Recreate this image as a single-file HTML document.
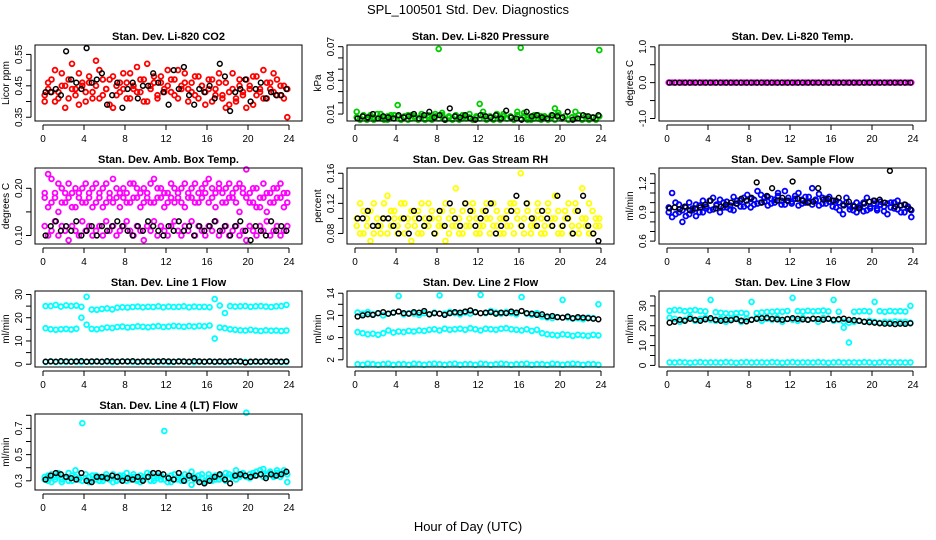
<!DOCTYPE html>
<html><head><meta charset="utf-8"><style>
html,body{margin:0;padding:0;background:#fff;}
svg{display:block;font-family:"Liberation Sans",Arial,sans-serif;}
</style></head><body>
<svg id="chart" width="936" height="540" viewBox="0 0 936 540" xmlns="http://www.w3.org/2000/svg">
<text x="468" y="14" font-size="13" text-anchor="middle">SPL_100501  Std. Dev. Diagnostics</text>
<text x="468" y="531" font-size="13" text-anchor="middle">Hour of Day (UTC)</text>
</svg>
<script>
// ---- data arrays ----
const hourTicks=[0,4,8,12,16,20,24];
const co2A=[0.42,0.44,0.47,0.40,0.43,0.49,0.45,0.41,0.52,0.44,0.39,0.46,0.43,0.48,0.41,0.45,0.50,0.42,0.44,0.47,0.38,0.45,0.43,0.49,0.46,0.41,0.44,0.51,0.43,0.47,0.40,0.45,0.48,0.42,0.46,0.44,0.50,0.43,0.47,0.41,0.45,0.49,0.44,0.46,0.42,0.48,0.45,0.43,0.47,0.40,0.44,0.49,0.42,0.46,0.39,0.44,0.41,0.47,0.43,0.38,0.45,0.48,0.42,0.44,0.50,0.41,0.46,0.43,0.47,0.42,0.45,0.44];
const co2B=[0.40,0.46,0.43,0.50,0.41,0.45,0.38,0.47,0.44,0.42,0.49,0.45,0.40,0.46,0.43,0.53,0.41,0.47,0.44,0.39,0.48,0.42,0.46,0.44,0.41,0.49,0.45,0.43,0.47,0.40,0.52,0.44,0.46,0.41,0.48,0.43,0.45,0.47,0.42,0.50,0.44,0.46,0.40,0.43,0.48,0.41,0.45,0.39,0.44,0.47,0.42,0.46,0.41,0.38,0.43,0.49,0.40,0.45,0.42,0.47,0.44,0.39,0.48,0.43,0.41,0.46,0.44,0.49,0.42,0.45,0.41,0.35];
const co2K=[0.43,0.43,0.44,0.42,0.56,0.47,0.46,0.44,0.57,0.46,0.47,0.49,0.39,0.42,0.46,0.38,0.44,0.46,0.41,0.45,0.45,0.49,0.46,0.43,0.39,0.50,0.44,0.51,0.42,0.39,0.44,0.43,0.45,0.41,0.52,0.48,0.37,0.43,0.44,0.47,0.40,0.44,0.46,0.41,0.43,0.42,0.42,0.44];
const presA=[0.012,0.006,0.008,0.005,0.009,0.007,0.006,0.010,0.005,0.008,0.007,0.009,0.018,0.006,0.008,0.005,0.009,0.007,0.006,0.008,0.005,0.009,0.007,0.010,0.068,0.011,0.006,0.008,0.005,0.009,0.007,0.006,0.008,0.010,0.005,0.007,0.019,0.012,0.006,0.008,0.005,0.009,0.007,0.010,0.006,0.008,0.005,0.012,0.069,0.011,0.007,0.005,0.009,0.006,0.008,0.007,0.005,0.009,0.015,0.011,0.006,0.008,0.005,0.007,0.012,0.009,0.006,0.008,0.005,0.007,0.006,0.067];
const presB=[0.007,0.005,0.009,0.006,0.008,0.005,0.010,0.006,0.007,0.005,0.009,0.006,0.008,0.005,0.007,0.009,0.006,0.008,0.005,0.010,0.006,0.007,0.005,0.008,0.006,0.009,0.005,0.007,0.006,0.008,0.005,0.009,0.006,0.007,0.005,0.008,0.006,0.009,0.005,0.007,0.006,0.010,0.005,0.008,0.006,0.007,0.005,0.009,0.006,0.008,0.005,0.007,0.006,0.009,0.005,0.008,0.006,0.007,0.005,0.009,0.006,0.008,0.005,0.007,0.006,0.009,0.005,0.008,0.006,0.007,0.005,0.008];
const presK=[0.006,0.008,0.007,0.010,0.006,0.008,0.007,0.006,0.009,0.007,0.008,0.010,0.006,0.009,0.012,0.007,0.009,0.005,0.015,0.008,0.007,0.009,0.006,0.005,0.009,0.008,0.007,0.009,0.006,0.013,0.007,0.006,0.005,0.012,0.008,0.009,0.007,0.006,0.009,0.008,0.007,0.012,0.005,0.006,0.009,0.008,0.007,0.009];
const tempA=[0,0,0,0,0,0,0,0,0,0,0,0,0,0,0,0,0,0,0,0,0,0,0,0,0,0,0,0,0,0,0,0,0,0,0,0,0,0,0,0,0,0,0,0,0,0,0,0,0,0,0,0,0,0,0,0,0,0,0,0,0,0,0,0,0,0,0,0,0,0,0,0];
const tempK=[0,0,0,0,0,0,0,0,0,0,0,0,0,0,0,0,0,0,0,0,0,0,0,0,0,0,0,0,0,0,0,0,0,0,0,0,0,0,0,0,0,0,0,0,0,0,0,0];
const ambHi=[0.18,0.16,0.22,0.19,0.15,0.20,0.17,0.21,0.19,0.16,0.18,0.20,0.17,0.19,0.16,0.21,0.18,0.20,0.17,0.19,0.22,0.18,0.16,0.20,0.19,0.17,0.21,0.18,0.16,0.20,0.19,0.17,0.22,0.18,0.20,0.16,0.19,0.21,0.17,0.18,0.20,0.16,0.19,0.18,0.21,0.17,0.20,0.19,0.22,0.18,0.16,0.20,0.19,0.17,0.21,0.18,0.20,0.15,0.19,0.24,0.17,0.20,0.16,0.18,0.21,0.15,0.19,0.17,0.20,0.18,0.16,0.19];
const ambHi2=[0.19,0.23,0.17,0.18,0.21,0.17,0.19,0.18,0.16,0.20,0.19,0.17,0.21,0.18,0.20,0.17,0.19,0.16,0.21,0.18,0.17,0.20,0.19,0.18,0.17,0.21,0.18,0.20,0.19,0.17,0.18,0.21,0.17,0.20,0.18,0.19,0.17,0.18,0.20,0.19,0.17,0.21,0.18,0.20,0.17,0.19,0.18,0.21,0.17,0.20,0.19,0.21,0.17,0.20,0.18,0.19,0.17,0.21,0.20,0.18,0.19,0.17,0.20,0.16,0.18,0.19,0.17,0.20,0.18,0.21,0.19,0.17];
const ambLo=[0.12,0.10,0.11,0.13,0.10,0.12,0.11,0.09,0.12,0.11,0.10,0.13,0.11,0.12,0.10,0.11,0.12,0.10,0.13,0.11,0.12,0.10,0.11,0.12,0.13,0.11,0.10,0.12,0.11,0.09,0.12,0.11,0.13,0.10,0.12,0.11,0.10,0.12,0.13,0.11,0.10,0.12,0.11,0.13,0.10,0.12,0.11,0.10,0.12,0.11,0.13,0.10,0.11,0.12,0.10,0.11,0.12,0.10,0.11,0.09,0.12,0.11,0.10,0.12,0.11,0.13,0.10,0.11,0.12,0.10,0.11,0.12];
const ambK=[0.10,0.12,0.13,0.11,0.12,0.11,0.13,0.10,0.11,0.12,0.10,0.12,0.11,0.12,0.13,0.12,0.11,0.10,0.12,0.11,0.13,0.12,0.11,0.10,0.12,0.11,0.13,0.11,0.12,0.10,0.12,0.11,0.12,0.13,0.11,0.12,0.10,0.12,0.13,0.11,0.09,0.12,0.11,0.10,0.13,0.11,0.12,0.11];
const rhA=[0.09,0.08,0.11,0.10,0.07,0.12,0.09,0.08,0.10,0.13,0.09,0.11,0.08,0.10,0.12,0.09,0.07,0.10,0.11,0.08,0.09,0.12,0.10,0.08,0.09,0.11,0.07,0.10,0.09,0.14,0.08,0.11,0.09,0.10,0.12,0.08,0.09,0.11,0.10,0.08,0.12,0.09,0.10,0.08,0.11,0.09,0.12,0.10,0.16,0.08,0.11,0.09,0.10,0.12,0.08,0.09,0.11,0.10,0.13,0.08,0.09,0.11,0.10,0.08,0.12,0.09,0.14,0.10,0.08,0.11,0.09,0.10];
const rhB=[0.10,0.12,0.08,0.09,0.11,0.08,0.10,0.09,0.12,0.08,0.11,0.10,0.09,0.12,0.08,0.10,0.11,0.09,0.08,0.12,0.10,0.09,0.11,0.08,0.10,0.09,0.12,0.08,0.11,0.09,0.10,0.08,0.12,0.09,0.11,0.10,0.08,0.09,0.12,0.10,0.09,0.11,0.08,0.10,0.09,0.12,0.08,0.11,0.09,0.10,0.12,0.08,0.09,0.11,0.10,0.08,0.12,0.09,0.10,0.11,0.08,0.10,0.12,0.09,0.11,0.08,0.10,0.09,0.12,0.08,0.10,0.09];
const rhK=[0.10,0.10,0.11,0.09,0.09,0.10,0.10,0.09,0.08,0.10,0.08,0.11,0.10,0.09,0.10,0.08,0.11,0.09,0.12,0.10,0.09,0.12,0.11,0.09,0.10,0.11,0.12,0.08,0.09,0.10,0.11,0.13,0.09,0.12,0.10,0.09,0.11,0.10,0.09,0.13,0.09,0.10,0.08,0.11,0.13,0.09,0.08,0.07];
const sfA=[0.95,0.85,1.0,0.90,0.80,0.95,0.88,0.92,0.86,0.97,0.90,0.94,1.02,0.93,0.98,0.90,1.00,0.95,0.97,0.92,1.02,0.96,1.05,0.98,0.95,1.03,0.99,1.08,1.01,0.97,1.04,1.00,1.10,1.02,0.98,1.05,1.01,1.07,0.97,1.03,1.00,1.06,0.98,1.02,1.09,0.99,1.04,1.01,0.96,1.02,0.92,0.98,1.00,0.93,0.97,0.90,0.95,1.00,0.92,0.96,1.02,0.94,0.98,0.91,0.99,0.95,1.00,0.93,0.97,0.90,0.96,0.92];
const sfB=[0.90,1.10,0.88,0.98,0.92,0.86,1.00,0.94,0.98,0.90,1.02,0.96,0.92,1.05,0.97,1.03,0.95,1.01,0.93,1.06,0.99,1.02,0.96,1.08,1.04,0.98,1.12,1.00,1.05,1.06,0.99,1.03,1.07,0.98,1.12,1.02,0.99,1.04,1.10,0.99,1.06,1.01,1.15,1.03,0.97,1.05,0.99,1.06,1.02,0.95,1.00,0.88,1.05,0.96,0.92,1.00,0.97,0.91,1.05,0.94,0.99,0.92,1.01,0.96,0.88,1.00,0.94,1.02,0.90,0.98,0.94,0.85];
const sfK=[0.94,0.95,0.93,0.96,0.92,0.94,0.95,0.98,1.02,0.94,0.96,0.98,1.00,0.99,1.04,1.02,1.05,1.21,1.00,1.07,1.15,1.02,1.05,1.02,1.22,1.04,1.02,1.00,1.01,1.15,1.03,1.04,1.02,1.05,0.97,1.01,0.96,0.94,0.99,1.01,1.02,1.03,1.00,1.33,0.96,0.97,0.98,0.93];
const l1A=[25,25,25.5,24.8,25.3,25,25.2,24.7,29,23.5,23.4,23.8,24,23.6,24.3,24.5,24.4,24.6,24.8,24.5,24.7,24.6,24.9,24.5,24.8,24.6,24.7,24.9,24.5,24.8,24.6,24.7,24.5,28,25.2,22,25,24.8,24.9,25,24.7,24.9,25,24.8,24.6,24.9,25,25.5];
const l1B=[15.5,15,14.8,15,15.2,14.9,15.3,20,17,15.2,15,15.4,15.8,15.6,16,16.2,15.8,16,16.3,16.1,15.9,16.2,16.4,16,16.2,16.5,16.3,16.1,16.4,16.2,16.5,16.3,16.6,11,15.8,15.5,15,14.8,14.6,14.5,14.8,14.5,14.3,14.6,14.4,14.5,14.3,14.5];
const l1C=[1,1.2,0.9,1.1,1,1.2,1,0.9,1.1,1,1.2,1,1.1,0.9,1,1.2,1.1,1,0.9,1.1,1,1.2,1,1.1,0.9,1,1.2,1.1,1,0.9,1.1,1,1.2,1,1.1,0.9,1,1.2,1.1,1,0.9,1.1,1,1.2,1,1.1,0.9,1];
const l1K=[1.1,1.2,1.1,1.3,1.2,1.1,1.2,1.3,1.1,1.2,1.2,1.1,1.3,1.2,1.1,1.2,1.2,1.3,1.1,1.2,1.2,1.1,1.2,1.3,1.2,1.1,1.2,1.2,1.1,1.3,1.2,1.1,1.2,1.1,1.2,1.1,1.2,1.3,1.2,0.8,1.1,1.2,1.1,1.2,1.1,1.2,1.1,1.2];
const l2A=[10.5,10.3,10.6,10.2,10.4,10,10.3,10.5,13.5,10.2,10.4,10.3,10.1,10.4,10.2,10.5,13.6,10.3,10.6,10.4,10.2,10.5,10.3,10.6,13.7,10.4,10.8,10.5,10.3,10.6,10.4,10.2,13.3,10.3,10.1,10.4,9.8,9.6,9.5,9.7,12.8,9.6,9.4,9.5,9.3,9.6,9.5,12];
const l2B=[7,6.8,6.6,6.7,6.5,6.8,7.3,6.9,7.1,7,7.2,7.1,7.3,7.2,7.4,7.5,7.3,7.6,7.4,7.5,7.6,7.4,7.7,7.5,7.3,7.6,7.5,7.4,7.6,7.7,7.5,7.4,7.3,7.5,7.2,7.4,6.8,6.6,6.5,6.4,6.6,6.5,6.3,6.5,6.4,6.3,6.5,6.4];
const l2C=[1.2,1.1,1.3,1.2,1.1,1.2,1.3,1.1,1.2,1.2,1.1,1.3,1.2,1.1,1.2,1.3,1.2,1.1,1.2,1.3,1.1,1.2,1.2,1.1,1.3,1.2,1.1,1.2,1.3,1.2,1.1,1.2,1.2,1.3,1.1,1.2,1.2,1.1,1.3,1.2,1.1,1.2,1.3,1.2,1.1,1.2,1.2,1.1];
const l2K=[9.8,10,10.2,10.1,10.4,10.6,10.3,10.5,10.7,10.4,10.3,10.6,10.5,10.8,10.2,10.4,10.3,10.1,10.4,10.6,10.5,10.7,10.9,10.6,10.4,10.5,10.6,10.3,10.5,10.4,10.7,10.5,10.8,10.4,10.3,10.1,10.2,9.8,9.9,9.7,9.6,9.8,9.5,9.7,9.6,9.5,9.4,9.3];
const l3A=[27.5,28,27.8,27.3,27.6,27.9,27.4,27.2,33,26.8,26.5,26.2,26,26.3,26.5,26.1,32,26.4,26.7,26.9,27,27.2,27,27.4,34,27.3,27.1,27.5,27.2,27.4,27.6,27.2,33,27,19,11.5,27,27.2,27.4,27.1,32,27.3,27,27.4,27.2,27.3,27.1,30];
const l3B=[24,23.5,22,23,24.5,22.5,23.5,24,23,22.5,23.5,22,23.5,24,22,23.5,23,24,22.5,23.5,23,24,22,23.5,23,22.5,24,23,23.5,22,24,23.5,22.5,23,22,21.5,22,22.5,22,22.5,22,21.5,22,21.8,22.2,21.9,22,21.5];
const l3C=[1.5,1.4,1.6,1.5,1.3,1.5,1.6,1.4,1.5,1.5,1.4,1.6,1.5,1.3,1.5,1.6,1.4,1.5,1.5,1.4,1.6,1.5,1.3,1.5,1.6,1.4,1.5,1.5,1.4,1.6,1.5,1.3,1.5,1.6,1.4,1.5,1.5,1.4,1.6,1.5,1.3,1.5,1.6,1.4,1.5,1.5,1.4,1.5];
const l3K=[21.5,22,23,22.5,23.5,23,22.5,23.2,23.8,23,22.5,23,22.8,23.4,22.6,22.2,23,23.5,23.8,24,23.5,23.2,23,23.4,23.8,23.5,23.2,23,23.6,23.4,23.1,23.5,23,23.3,23.6,23,22.8,22.5,22,21.8,21.5,21.2,21,21,20.8,21,20.9,21.2];
const ltA=[0.33,0.30,0.35,0.31,0.34,0.29,0.32,0.36,0.30,0.33,0.31,0.74,0.32,0.29,0.34,0.31,0.33,0.30,0.35,0.32,0.29,0.33,0.31,0.34,0.30,0.32,0.35,0.31,0.29,0.33,0.36,0.30,0.32,0.34,0.31,0.68,0.33,0.29,0.35,0.31,0.32,0.30,0.34,0.27,0.33,0.31,0.35,0.29,0.32,0.30,0.34,0.31,0.33,0.36,0.32,0.34,0.38,0.33,0.35,0.82,0.32,0.36,0.34,0.38,0.33,0.35,0.37,0.34,0.36,0.33,0.38,0.35];
const ltB=[0.31,0.34,0.29,0.33,0.36,0.31,0.33,0.30,0.34,0.38,0.32,0.30,0.35,0.33,0.31,0.34,0.30,0.32,0.33,0.31,0.35,0.30,0.34,0.32,0.36,0.31,0.33,0.30,0.34,0.31,0.33,0.35,0.30,0.32,0.34,0.31,0.29,0.34,0.31,0.33,0.30,0.35,0.32,0.37,0.31,0.34,0.32,0.30,0.35,0.33,0.31,0.34,0.32,0.30,0.35,0.33,0.31,0.34,0.36,0.33,0.35,0.34,0.37,0.35,0.39,0.34,0.36,0.33,0.38,0.35,0.36,0.29];
const ltK=[0.31,0.34,0.36,0.35,0.33,0.32,0.31,0.36,0.30,0.29,0.33,0.33,0.32,0.34,0.33,0.30,0.32,0.31,0.33,0.30,0.33,0.36,0.36,0.35,0.32,0.31,0.36,0.30,0.34,0.32,0.29,0.28,0.30,0.33,0.35,0.31,0.28,0.34,0.35,0.34,0.33,0.34,0.35,0.32,0.35,0.34,0.35,0.37];
// y tick values / printed labels
const yt1=[0.35,0.40,0.45,0.50,0.55], yl1=["0.35","0.45","0.55"];
const yt2=[0.01,0.02,0.03,0.04,0.05,0.06,0.07], yl2=["0.01","0.04","0.07"];
const yt3=[-1,-0.5,0,0.5,1], yl3=["-1.0","0.0","1.0"];
const yt4=[0.10,0.15,0.20], yl4=["0.10","0.20"];
const yt5=[0.08,0.10,0.12,0.14,0.16], yl5=["0.08","0.12","0.16"];
const yt6=[0.6,0.7,0.8,0.9,1.0,1.1,1.2,1.3], yl6=["0.6","0.9","1.2"];
const yt7=[0,5,10,15,20,25,30], yl7=["0","10","20","30"];
const yt8=[2,4,6,8,10,12,14], yl8=["2","6","10","14"];
const yt9=[0,5,10,15,20,25,30,35], yl9=["0","10","20","30"];
const yt10=[0.3,0.4,0.5,0.6,0.7,0.8], yl10=["0.3","0.5","0.7"];

const panels=[
 {name:"co2",title:"Stan. Dev. Li-820 CO2",ylab:"Licor ppm",col:0,row:0,ymin:0.338,ymax:0.58,ticks:yt1,labels:yl1,series:[[co2A,"#ff0000"],[co2B,"#ff0000"],[co2K,"#000"]]},
 {name:"pressure",title:"Stan. Dev. Li-820 Pressure",ylab:"kPa",col:1,row:0,ymin:0.0038,ymax:0.0715,ticks:yt2,labels:yl2,series:[[presA,"#00cc00"],[presB,"#00cc00"],[presK,"#000"]]},
 {name:"temp",title:"Stan. Dev. Li-820 Temp.",ylab:"degrees C",col:2,row:0,ymin:-1.07,ymax:1.05,ticks:yt3,labels:yl3,series:[[tempA,"#ff00ff"],[tempK,"#000"]]},
 {name:"amb-box-temp",title:"Stan. Dev. Amb. Box Temp.",ylab:"degrees C",col:0,row:1,ymin:0.082,ymax:0.243,ticks:yt4,labels:yl4,series:[[ambHi,"#ff00ff"],[ambHi2,"#ff00ff"],[ambLo,"#ff00ff"],[ambK,"#000"]]},
 {name:"gas-rh",title:"Stan. Dev. Gas Stream RH",ylab:"percent",col:1,row:1,ymin:0.066,ymax:0.167,ticks:yt5,labels:yl5,series:[[rhA,"#ffff00"],[rhB,"#ffff00"],[rhK,"#000"]]},
 {name:"sample-flow",title:"Stan. Dev. Sample Flow",ylab:"ml/min",col:2,row:1,ymin:0.57,ymax:1.36,ticks:yt6,labels:yl6,series:[[sfA,"#0000ff"],[sfB,"#0000ff"],[sfK,"#000"]]},
 {name:"line1-flow",title:"Stan. Dev. Line 1 Flow",ylab:"ml/min",col:0,row:2,ymin:-1.2,ymax:31.5,ticks:yt7,labels:yl7,series:[[l1A,"#00ffff"],[l1B,"#00ffff"],[l1C,"#00ffff"],[l1K,"#000"]]},
 {name:"line2-flow",title:"Stan. Dev. Line 2 Flow",ylab:"ml/min",col:1,row:2,ymin:0.7,ymax:14.4,ticks:yt8,labels:yl8,series:[[l2A,"#00ffff"],[l2B,"#00ffff"],[l2C,"#00ffff"],[l2K,"#000"]]},
 {name:"line3-flow",title:"Stan. Dev. Line 3 Flow",ylab:"ml/min",col:2,row:2,ymin:-0.8,ymax:37.5,ticks:yt9,labels:yl9,series:[[l3A,"#00ffff"],[l3B,"#00ffff"],[l3C,"#00ffff"],[l3K,"#000"]]},
 {name:"line4-flow",title:"Stan. Dev. Line 4 (LT) Flow",ylab:"ml/min",col:0,row:3,ymin:0.23,ymax:0.81,ticks:yt10,labels:yl10,series:[[ltA,"#00ffff"],[ltB,"#00ffff"],[ltK,"#000"]]}
];

const NS="http://www.w3.org/2000/svg";
const svg=document.getElementById("chart");
function mk(tag,attrs,parent){const e=document.createElementNS(NS,tag);for(const k in attrs)e.setAttribute(k,attrs[k]);parent.appendChild(e);return e;}

panels.forEach(p=>{
  const L=35+312*p.col, W=267, T=45+123*p.row, H=76;
  const x0=L+8, x24=L+W-13;
  const xs=h=>x0+(x24-x0)*h/24;
  const ys=v=>T+H-(v-p.ymin)/(p.ymax-p.ymin)*H;
  const g=mk("g",{},svg);
  
  
  const tt=mk("text",{x:L+W/2,y:T-5,"font-size":"11","font-weight":"bold","text-anchor":"middle"},g);
  tt.textContent=p.title;
  
  
  // points
  const pg=mk("g",{fill:"none"},g);
  
  
  p.series.forEach(([arr,color])=>{
    const n=arr.length;
    arr.forEach((v,i)=>{
      const c=mk("circle",{cx:xs((i+0.5)*24/n).toFixed(1),cy:ys(v).toFixed(1),r:2.4,stroke:color,"stroke-width":color==="#000"?1.5:1.8},pg);
      
      
    });
  });
  const box=mk("rect",{x:L,y:T,width:W,height:H,fill:"none",stroke:"#000","stroke-width":1},g);
  
  
  // x axis
  const xa=mk("g",{stroke:"#000","stroke-width":1},g);
  
  
  mk("line",{x1:xs(0),x2:xs(24),y1:T+H+4,y2:T+H+4},xa);
  hourTicks.forEach(h=>{
    mk("line",{x1:xs(h),x2:xs(h),y1:T+H+4,y2:T+H+9},xa);
    const t=mk("text",{x:xs(h),y:T+H+21,"font-size":"10","text-anchor":"middle",stroke:"none",fill:"#000"},xa);
    t.textContent=String(h);
    
    
  });
  // y axis
  const ya=mk("g",{stroke:"#000","stroke-width":1},g);
  
  
  const ax=L-4;
  mk("line",{x1:ax,x2:ax,y1:ys(p.ticks[0]),y2:ys(p.ticks[p.ticks.length-1])},ya);
  p.ticks.forEach(v=>mk("line",{x1:ax-5,x2:ax,y1:ys(v),y2:ys(v)},ya));
  p.labels.forEach(s=>{
    const v=parseFloat(s), y=ys(v), x=L-13;
    const t=mk("text",{x:x,y:y,"font-size":"10","text-anchor":"middle",transform:`rotate(-90 ${x} ${y})`,stroke:"none",fill:"#000"},ya);
    t.textContent=s;
    
    
  });
  const yl=mk("text",{x:L-26,y:T+H/2,"font-size":"10","text-anchor":"middle",transform:`rotate(-90 ${L-26} ${T+H/2})`},g);
  yl.textContent=p.ylab;
  
  
});
</script>
</body></html>
